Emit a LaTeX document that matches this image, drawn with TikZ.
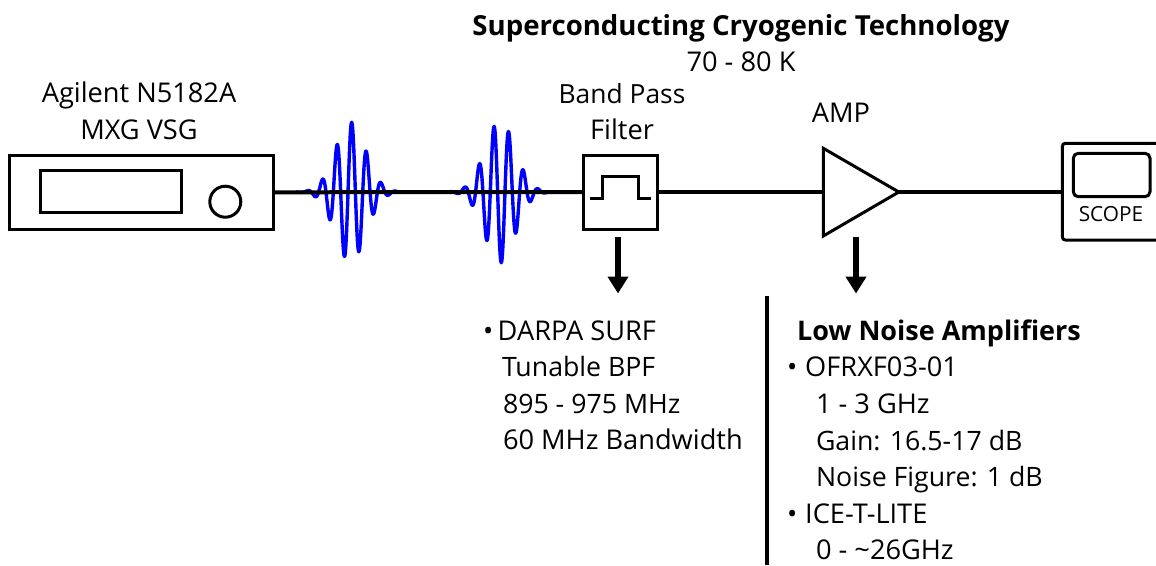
\documentclass[tikz,border=0pt]{standalone}
\usepackage{fontspec}
\setmainfont{Open Sans}
\usetikzlibrary{arrows.meta}
\tikzset{
  box/.style={draw=black,line width=3pt,minimum width=0pt,inner sep=0pt,outer sep=0pt},
  wire/.style={line width=4pt,black},
  wave/.style={line width=3.4pt,draw={rgb,255:red,0;green,0;blue,255},line join=round},
  callout/.style={line width=6pt,-{Triangle[width=20pt,length=17pt]}},
  lbl/.style={inner sep=0pt,outer sep=0pt,font=\fontsize{27.2}{27.2}\selectfont,anchor=base},
  item/.style={lbl,anchor=base west},
  itemsm/.style={item,font=\fontsize{26.7}{26.7}\selectfont},
  boldlbl/.style={lbl,font=\fontsize{27.6}{27.6}\selectfont\bfseries},
}
\begin{document}
\begin{tikzpicture}[x=1pt,y=-1pt]
\useasboundingbox (0,0) rectangle (1156,565);
% waves
\draw[wave,domain=296:404,samples=220,smooth] plot (\x,{192-70*exp(-(((\x-350.5)/21.5)^2))*cos(24.49*(\x-351.7))});
\draw[wave,domain=445:556,samples=220,smooth] plot (\x,{192+71*exp(-(((\x-500)/21.5)^2))*cos(24.49*(\x-501.3))});
% devices
\node[box,minimum width=264.5pt,minimum height=73.5pt] (src) at (141.7,192.3) {};
\node[box,minimum width=141pt,minimum height=42pt] (disp) at (111.2,191.7) {};
\node[box,circle,minimum size=31pt] (knob) at (225.3,201.7) {};
\node[box,minimum width=74.4pt,minimum height=74pt] (bpf) at (620.5,192) {};
\coordinate (ampT) at (823.3,148.3);
\coordinate (ampB) at (823.3,236);
\coordinate (ampOut) at (898.8,192);
\coordinate (ampIn) at (823.3,192);
\draw[line width=3pt,line join=miter] (ampT) -- (ampOut) -- (ampB) -- cycle;
\coordinate (scopeIn) at (1062.3,192);
\draw[line width=3pt,rounded corners=3pt] (1170,143.3) -- (1062.3,143.3) -- (1062.3,240) -- (1170,240);
\draw[line width=3pt,rounded corners=5pt] (1073.3,153.3) rectangle (1150,196.7);
\node[inner sep=0pt,font=\fontsize{20.8}{21}\selectfont] (scopeT) at (1111,214.5) {SCOPE};
% pulse
\draw[line width=3pt] (590.3,198.7) -- (602.7,198.7) -- (602.7,176.7) -- (638.3,176.7) -- (638.3,198.7) -- (650.7,198.7);
% wires
\draw[wire] (src.east) -- (bpf.west);
\draw[wire] (bpf.east) -- (ampIn);
\draw[wire] (ampOut) -- (scopeIn);
% callouts
\coordinate (a1) at (618,237); \coordinate (a2) at (618,293.5);
\coordinate (b1) at (856,237); \coordinate (b2) at (856,293.5);
\draw[callout] (a1) -- (a2);
\draw[callout] (b1) -- (b2);
\coordinate (d1) at (767,296); \coordinate (d2) at (767,565);
\draw[line width=3.5pt] (d1) -- (d2);
% labels
\node[boldlbl] (title) at (741,35) {Superconducting Cryogenic Technology};
\node[lbl] (temp) at (741,71) {70 - 80 K};
\node[lbl] (sg1) at (139,102) {Agilent N5182A};
\node[lbl] (sg2) at (139,139) {MXG VSG};
\node[lbl,font=\fontsize{26.4}{26.4}\selectfont] (bp1) at (622,103) {Band Pass};
\node[lbl] (bp2) at (622,139) {Filter};
\node[lbl] (amplbl) at (841,122) {AMP};
\node[item] (l1) at (483,340) {•\kern 4.5pt DARPA SURF};
\node[itemsm] (l2) at (502,376) {Tunable BPF};
\node[itemsm] (l3) at (503,413) {895 - 975 MHz};
\node[item] (l4) at (503,449) {60 MHz Bandwidth};
\node[boldlbl,anchor=base west,font=\fontsize{27}{27}\selectfont\bfseries] (r0) at (797,340) {Low Noise Amplifiers};
\node[item] (r1) at (787,376) {•\kern 8pt OFRXF03-01};
\node[item] (r2) at (816,413) {1 - 3 GHz};
\node[itemsm] (r3) at (816,450) {Gain: 16.5-17 dB};
\node[itemsm] (r4) at (816,486) {Noise Figure: 1 dB};
\node[item] (r5) at (787,523) {•\kern 8pt ICE-T-LITE};
\node[item] (r6) at (816,559) {0 - \textasciitilde26GHz};
\end{tikzpicture}
\end{document}
